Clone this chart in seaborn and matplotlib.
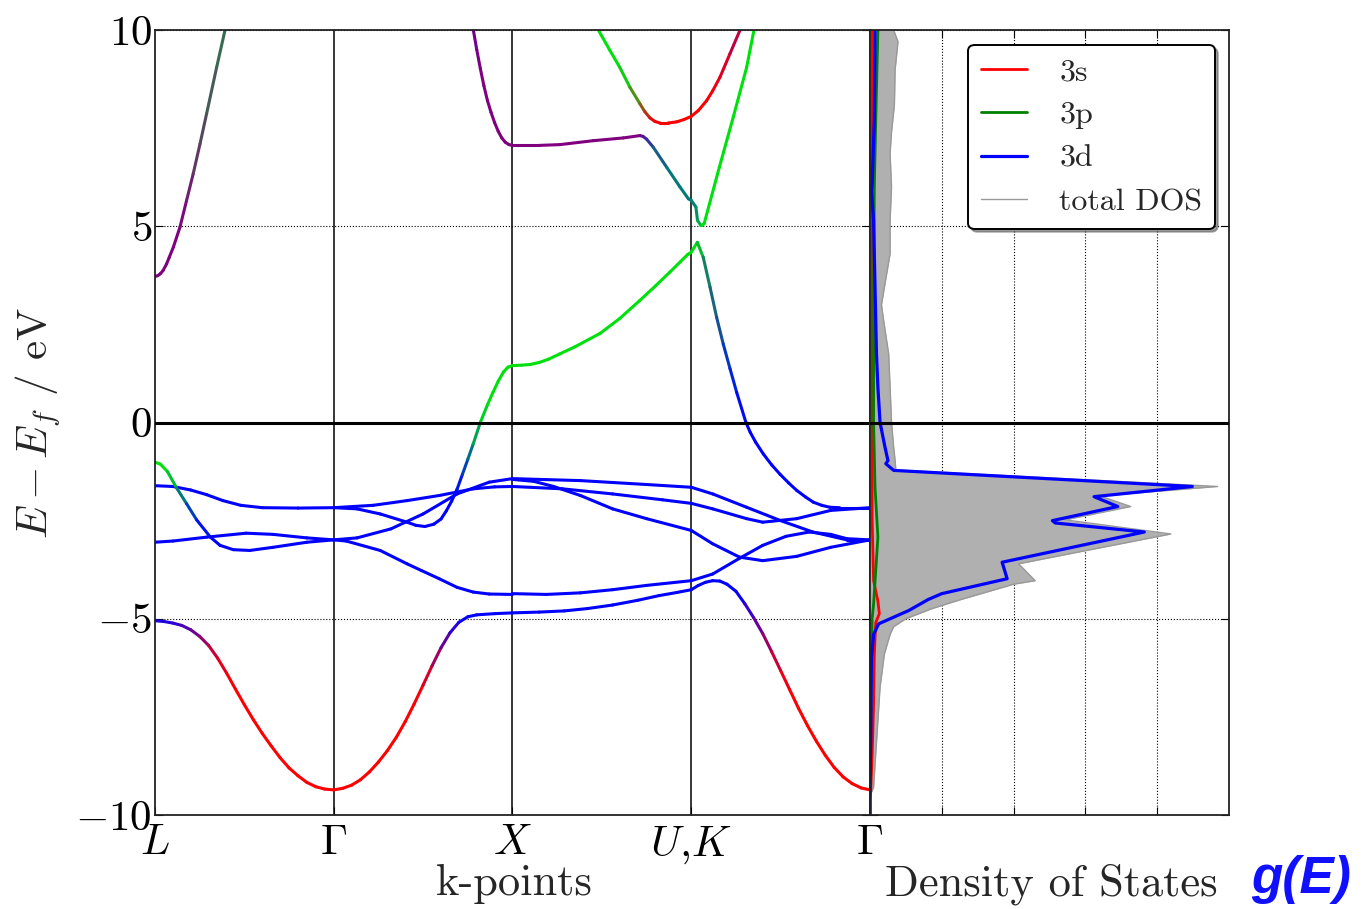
import numpy as np
import matplotlib
matplotlib.use("Agg")
import matplotlib.pyplot as plt
import seaborn as sns
from matplotlib.collections import LineCollection

# ---------------- band structure data ----------------
# k along the path L - Gamma - X - U,K - Gamma (one unit per segment), E - Ef in eV
kpt_pos = [0, 1, 2, 3, 4]
kpt_labels = [r'$L$', r'$\Gamma$', r'$X$', r'$U{,}K$', r'$\Gamma$']

# orbital weights (s, p, d) -> red, green, blue
R = (1, 0, 0)
G = (0, 1, 0)
B = (0, 0, 1)
P = (0.5, 0, 0.5)

# lowest (s-like) band, whole path
s_band_k = [0.00, 0.05, 0.10, 0.15, 0.20, 0.25, 0.30, 0.35, 0.40, 0.45, 0.50,
            0.55, 0.60, 0.65, 0.70, 0.75, 0.80, 0.85, 0.90, 0.95, 1.00,
            1.05, 1.10, 1.15, 1.20, 1.25, 1.30, 1.35, 1.40, 1.45, 1.50,
            1.55, 1.60, 1.65, 1.70, 1.75, 1.80, 1.90, 2.00,
            2.15, 2.29, 2.42, 2.56, 2.70, 2.82, 2.92, 3.00,
            3.04, 3.08, 3.12, 3.16, 3.20, 3.25, 3.30, 3.35, 3.40, 3.45, 3.50,
            3.55, 3.60, 3.65, 3.70, 3.75, 3.80, 3.85, 3.90, 3.95, 4.00]
s_band_e = [-5.05, -5.07, -5.11, -5.17, -5.28, -5.45, -5.68, -6.00, -6.38, -6.79, -7.19,
            -7.57, -7.92, -8.24, -8.54, -8.80, -9.00, -9.17, -9.28, -9.34, -9.36,
            -9.32, -9.24, -9.10, -8.90, -8.65, -8.36, -8.02, -7.62, -7.17, -6.69,
            -6.20, -5.74, -5.36, -5.09, -4.95, -4.90, -4.87, -4.85,
            -4.83, -4.80, -4.74, -4.65, -4.53, -4.41, -4.33, -4.26,
            -4.15, -4.07, -4.03, -4.04, -4.12, -4.30, -4.62, -4.98, -5.38, -5.84, -6.32,
            -6.80, -7.28, -7.72, -8.12, -8.48, -8.79, -9.03, -9.20, -9.31, -9.36]
s_band_w = ([(0.1, 0, 0.9), (0.12, 0, 0.88), (0.15, 0, 0.85), (0.25, 0, 0.75), (0.35, 0, 0.65),
             (0.5, 0, 0.5), (0.68, 0, 0.32), (0.85, 0, 0.15), (0.95, 0, 0.05)]
            + [R] * 12 + [R] * 9
            + [(0.92, 0, 0.08), (0.75, 0, 0.25), (0.5, 0, 0.5), (0.25, 0, 0.75), (0.08, 0, 0.92)]
            + [B] * 4 + [B] * 8 + [B] * 6
            + [(0.1, 0, 0.9), (0.3, 0, 0.7), (0.5, 0, 0.5), (0.7, 0, 0.3), (0.88, 0, 0.12), (0.97, 0, 0.03)]
            + [R] * 9)

# L - Gamma
d1_k = [0.00, 0.10, 0.20, 0.29, 0.38, 0.48, 0.60, 0.80, 1.00]
d1_e = [-1.61, -1.63, -1.72, -1.84, -1.99, -2.11, -2.17, -2.18, -2.17]
d2_k = [0.00, 0.10, 0.29, 0.51, 0.66, 0.85, 1.00]
d2_e = [-3.05, -3.02, -2.92, -2.82, -2.85, -2.94, -2.99]
sp1_k = [0.00, 0.03, 0.07, 0.12, 0.177, 0.233, 0.31, 0.364, 0.438, 0.53, 0.66, 0.85, 1.00]
sp1_e = [-1.01, -1.06, -1.25, -1.66, -2.07, -2.48, -2.92, -3.13, -3.24, -3.26, -3.18, -3.05, -2.99]
sp1_w = [G, G, G, (0, 0.7, 0.3), (0, 0.4, 0.6), (0, 0.15, 0.85), B, B, B, B, B, B, B]
up1_k = [0.00, 0.015, 0.03, 0.045, 0.065, 0.08, 0.103, 0.14, 0.177, 0.214, 0.252, 0.289, 0.345, 0.392]
up1_e = [3.72, 3.74, 3.79, 3.87, 4.04, 4.21, 4.47, 4.98, 5.66, 6.34, 7.10, 7.87, 9.05, 10.0]
up1_w = [P] * 8 + [(0.45, 0.1, 0.45), (0.4, 0.2, 0.4), (0.35, 0.3, 0.35),
                   (0.3, 0.35, 0.35), (0.25, 0.45, 0.3), (0.2, 0.5, 0.3)]

# Gamma - X
d3_k = [1.00, 1.22, 1.41, 1.59, 1.78, 1.90, 2.00]
d3_e = [-2.17, -2.11, -1.99, -1.86, -1.69, -1.64, -1.63]
d4_k = [1.00, 1.13, 1.32, 1.50, 1.69, 1.87, 2.00]
d4_e = [-2.99, -2.94, -2.71, -2.33, -1.82, -1.52, -1.43]
d5_k = [1.00, 1.07, 1.26, 1.41, 1.49, 1.59, 1.69, 1.78, 1.87, 2.00]
d5_e = [-2.99, -3.02, -3.26, -3.60, -3.77, -3.98, -4.20, -4.32, -4.37, -4.38]
sp2_k = [1.00, 1.13, 1.26, 1.41, 1.46, 1.51, 1.56, 1.60, 1.63, 1.66, 1.69,
         1.72, 1.75, 1.78, 1.82, 1.86, 1.89, 1.92, 1.95, 1.975, 2.00]
sp2_e = [-2.17, -2.20, -2.33, -2.54, -2.62, -2.65, -2.59, -2.46, -2.25, -2.00, -1.70,
         -1.32, -0.94, -0.55, 0.00, 0.45, 0.76, 1.05, 1.29, 1.41, 1.45]
sp2_w = [B] * 11 + [(0, 0.2, 0.8), (0, 0.4, 0.6), (0, 0.6, 0.4), (0, 0.85, 0.15)] + [G] * 6
up2_k = [1.781, 1.80, 1.82, 1.84, 1.86, 1.88, 1.90, 1.92, 1.94, 1.96, 1.98, 2.00]
up2_e = [10.0, 9.50, 9.02, 8.58, 8.20, 7.90, 7.64, 7.42, 7.25, 7.14, 7.08, 7.06]
up2_w = [(0.42, 0, 0.58), (0.45, 0, 0.55)] + [P] * 10

# X - U,K
d6_k = [2.00, 2.38, 2.75, 3.00]
d6_e = [-1.43, -1.48, -1.58, -1.65]
d7_k = [2.00, 2.12, 2.23, 2.38, 2.56, 2.75, 3.00]
d7_e = [-1.45, -1.50, -1.63, -1.86, -2.20, -2.45, -2.75]
d8_k = [2.00, 2.28, 2.56, 2.84, 3.00]
d8_e = [-1.63, -1.69, -1.82, -1.97, -2.06]
d9_k = [2.00, 2.19, 2.38, 2.56, 2.75, 3.00]
d9_e = [-4.36, -4.38, -4.34, -4.26, -4.15, -4.03]
up3_k = [2.00, 2.15, 2.266, 2.452, 2.62, 2.713, 2.73, 2.75, 2.788, 2.863, 2.937, 2.984, 3.00]
up3_e = [7.06, 7.06, 7.08, 7.18, 7.25, 7.31, 7.29, 7.22, 7.01, 6.50, 6.00, 5.70, 5.66]
up3_w = [P] * 6 + [(0.35, 0.08, 0.57), (0.25, 0.15, 0.6), (0.1, 0.35, 0.55), (0.05, 0.5, 0.45),
                   (0, 0.55, 0.45), (0, 0.55, 0.45), (0, 0.55, 0.45)]
up5_k = [2.48, 2.545, 2.60, 2.657, 2.713, 2.74, 2.769, 2.797, 2.825, 2.87, 2.919, 2.96, 3.00]
up5_e = [10.0, 9.48, 9.05, 8.54, 8.12, 7.92, 7.76, 7.67, 7.63, 7.63, 7.66, 7.72, 7.80]
up5_w = [G, G, G, (0.15, 0.8, 0.05), (0.45, 0.5, 0.05), (0.65, 0.3, 0.05), (0.85, 0.1, 0.05),
         (0.95, 0, 0.05), R, R, R, R, R]
up7_k = [2.00, 2.05, 2.10, 2.15, 2.20, 2.266, 2.35, 2.49, 2.60, 2.71, 2.80, 2.88, 2.94, 2.98, 3.00]
up7_e = [1.45, 1.46, 1.48, 1.53, 1.61, 1.75, 1.93, 2.27, 2.65, 3.10, 3.48, 3.83, 4.10, 4.28, 4.34]

# U,K - Gamma
d10_k = [3.00, 3.12, 3.31, 3.50, 3.68, 3.87, 4.00]
d10_e = [-1.65, -1.82, -2.16, -2.50, -2.79, -2.99, -2.99]
d11_k = [3.00, 3.12, 3.31, 3.40, 3.59, 3.78, 4.00]
d11_e = [-2.06, -2.20, -2.45, -2.54, -2.45, -2.24, -2.17]
d12_k = [3.00, 3.12, 3.27, 3.40, 3.59, 3.78, 4.00]
d12_e = [-2.75, -3.09, -3.43, -3.52, -3.41, -3.18, -2.99]
d13_k = [3.00, 3.12, 3.27, 3.40, 3.53, 3.66, 3.78, 3.87, 4.00]
d13_e = [-4.03, -3.86, -3.46, -3.13, -2.90, -2.79, -2.85, -2.96, -2.99]
sp3_k = [3.00, 3.034, 3.067, 3.105, 3.142, 3.179, 3.217, 3.254, 3.306, 3.33, 3.36, 3.403,
         3.45, 3.497, 3.545, 3.59, 3.64, 3.683, 3.73, 3.776, 3.83, 3.88, 4.00]
sp3_e = [4.34, 4.59, 4.21, 3.45, 2.68, 2.00, 1.37, 0.77, 0.00, -0.25, -0.50, -0.80,
         -1.08, -1.32, -1.54, -1.73, -1.90, -2.03, -2.11, -2.16, -2.17, -2.17, -2.17]
sp3_w = [G, G, (0.05, 0.65, 0.3), (0.1, 0.5, 0.4), (0.1, 0.4, 0.5), (0.05, 0.3, 0.65),
         (0, 0.2, 0.8), (0, 0.1, 0.9)] + [B] * 15
up4_k = [3.00, 3.026, 3.035, 3.054, 3.064, 3.073, 3.157, 3.235, 3.31, 3.351]
up4_e = [5.66, 5.49, 5.15, 5.02, 5.03, 5.08, 6.50, 7.78, 9.05, 10.0]
up4_w = [(0, 0.55, 0.45), (0, 0.6, 0.4), (0, 0.7, 0.3), (0, 0.85, 0.15), G, G, G, G, G, G]
up6_k = [3.00, 3.04, 3.086, 3.12, 3.161, 3.217, 3.273]
up6_e = [7.80, 7.95, 8.20, 8.45, 8.80, 9.40, 10.0]
up6_w = [R, R, R, (0.95, 0, 0.05), (0.9, 0, 0.1), (0.8, 0, 0.2), (0.7, 0, 0.3)]

# ---------------- density of states (arb. units) ----------------
dos_tot_e = [10.0, 9.7, 9.0, 8.1, 7.4, 6.85, 6.0, 5.15, 4.3, 3.55, 3.0, 2.6, 1.75, 0.9, 0.0,
             -0.64, -0.97, -1.21, -1.63, -1.87, -2.14, -2.48, -2.84, -3.6, -4.03, -4.12,
             -4.53, -4.75, -5.0, -5.2, -5.4, -5.9, -6.75, -7.6, -8.44, -9.3, -9.5, -10.0]
dos_tot = [0.33, 0.39, 0.35, 0.34, 0.30, 0.28, 0.30, 0.28, 0.28, 0.21, 0.16, 0.19, 0.26, 0.28, 0.30,
           0.33, 0.35, 0.36, 4.84, 3.20, 3.63, 2.72, 4.19, 2.07, 2.30, 2.00,
           1.23, 0.85, 0.50, 0.33, 0.28, 0.20, 0.14, 0.11, 0.08, 0.05, 0.0, 0.0]
dos_d_e = [10.0, 7.7, 6.1, 5.9, 5.15, 3.45, 1.75, 0.9, 0.0, -0.64, -0.97, -1.05, -1.22, -1.63,
           -1.89, -2.14, -2.5, -2.56, -2.79, -3.56, -3.98, -4.36, -4.51, -4.79, -5.13, -5.4,
           -6.0, -8.0, -9.5, -10.0]
dos_d = [0.07, 0.06, 0.03, 0.02, 0.05, 0.07, 0.09, 0.11, 0.14, 0.21, 0.25, 0.22, 0.33, 4.49,
         3.12, 3.45, 2.54, 2.58, 3.82, 1.84, 1.91, 1.00, 0.81, 0.54, 0.12, 0.05,
         0.02, 0.01, 0.0, 0.0]
dos_s_e = [10.0, 6.2, 5.9, 0.0, -2.5, -4.03, -4.55, -4.87, -5.1, -5.9, -7.16, -8.44, -9.4, -9.6, -10.0]
dos_s = [0.03, 0.02, 0.03, 0.03, 0.03, 0.05, 0.11, 0.13, 0.08, 0.06, 0.05, 0.03, 0.01, 0.0, 0.0]
dos_p_e = [10.0, 7.7, 6.0, 3.45, 0.0, -1.65, -2.92, -3.77, -4.62, -5.0, -5.9, -9.3, -10.0]
dos_p = [0.11, 0.08, 0.06, 0.05, 0.05, 0.07, 0.11, 0.08, 0.05, 0.03, 0.02, 0.0, 0.0]

# ---------------- style ----------------
sns.set_style("ticks")
plt.rcParams.update({
    'font.family': 'serif',
    'font.serif': ['cmr10', 'DejaVu Serif'],
    'mathtext.fontset': 'cm',
    'axes.unicode_minus': False,
    'axes.formatter.use_mathtext': True,
    'axes.edgecolor': '#222222',
    'axes.linewidth': 1.3,
    'xtick.direction': 'in',
    'ytick.direction': 'in',
    'xtick.color': 'k',
    'ytick.color': 'k',
})

mix = np.array([[1, 0, 0], [0, 0.88, 0.05], [0, 0, 1]])


def draw_band(ax, k, e, w=(B,)):
    pts = np.column_stack([k, e])
    segs = np.stack([pts[:-1], pts[1:]], axis=1)
    w = np.array(w, float)
    if len(w) == 1:
        w = np.repeat(w, len(k), axis=0)
    cols = np.clip(0.5 * (w[:-1] + w[1:]) @ mix, 0, 1)
    lc = LineCollection(segs, colors=cols, linewidths=2.2, capstyle='round', joinstyle='round', zorder=2)
    ax.add_collection(lc)


fig = plt.figure(figsize=(13.63, 9.09), dpi=100)
ax = fig.add_axes([0.1137, 0.1034, 0.5246, 0.8636])
axd = fig.add_axes([0.6383, 0.1034, 0.2634, 0.8636], sharey=ax)

# band structure
for xk in kpt_pos[1:-1]:
    ax.axvline(xk, color='k', lw=1.1, zorder=1.8)
ax.yaxis.grid(True, ls=':', color='k', lw=0.8)

draw_band(ax, s_band_k, s_band_e, s_band_w)
draw_band(ax, d1_k, d1_e)
draw_band(ax, d2_k, d2_e)
draw_band(ax, sp1_k, sp1_e, sp1_w)
draw_band(ax, up1_k, up1_e, up1_w)
draw_band(ax, d3_k, d3_e)
draw_band(ax, d4_k, d4_e)
draw_band(ax, d5_k, d5_e)
draw_band(ax, sp2_k, sp2_e, sp2_w)
draw_band(ax, up2_k, up2_e, up2_w)
draw_band(ax, d6_k, d6_e)
draw_band(ax, d7_k, d7_e)
draw_band(ax, d8_k, d8_e)
draw_band(ax, d9_k, d9_e)
draw_band(ax, up3_k, up3_e, up3_w)
draw_band(ax, up5_k, up5_e, up5_w)
draw_band(ax, up7_k, up7_e, [G])
draw_band(ax, d10_k, d10_e)
draw_band(ax, d11_k, d11_e)
draw_band(ax, d12_k, d12_e)
draw_band(ax, d13_k, d13_e)
draw_band(ax, sp3_k, sp3_e, sp3_w)
draw_band(ax, up4_k, up4_e, up4_w)
draw_band(ax, up6_k, up6_e, up6_w)

ax.axhline(0, color='k', lw=2.2, zorder=3)
ax.set_xlim(0, 4)
ax.set_ylim(-10, 10)
ax.set_xticks(kpt_pos)
ax.set_xticklabels(kpt_labels, fontsize=31)
ax.set_yticks([-10, -5, 0, 5, 10])
ax.set_yticklabels([r'$-10$', r'$-5$', r'$0$', r'$5$', r'$10$'], fontsize=31)
ax.tick_params(axis='x', pad=7, length=6)
ax.tick_params(axis='y', pad=2, length=6, right=True)
ax.set_xlabel('k-points', fontsize=32)
ax.xaxis.set_label_coords(0.503, -0.062)
ax.set_ylabel(r'$E-E_f$ / eV', fontsize=31)
ax.yaxis.set_label_coords(-0.128, 0.5)

# density of states
axd.fill_betweenx(dos_tot_e, 0, dos_tot, color='#b0b0b0', lw=0, zorder=1)
sns.lineplot(x=dos_tot, y=dos_tot_e, orient='y', ax=axd, color='#999999', lw=1.0, label='total DOS')
sns.lineplot(x=dos_s, y=dos_s_e, orient='y', ax=axd, color='red', lw=2.0, label='3s')
sns.lineplot(x=dos_p, y=dos_p_e, orient='y', ax=axd, color='green', lw=2.0, label='3p')
sns.lineplot(x=dos_d, y=dos_d_e, orient='y', ax=axd, color='blue', lw=2.3, label='3d')
axd.axhline(0, color='k', lw=2.2, zorder=3)
axd.set_xlim(0, 5)
axd.set_xticks([1, 2, 3, 4])
axd.grid(True, ls=':', color='k', lw=0.8)
axd.tick_params(labelleft=False, labelbottom=False, length=6, right=True, top=True)
axd.set_ylabel('')
axd.set_xlabel('Density of States', fontsize=32)
axd.xaxis.set_label_coords(0.504, -0.062)

handles, labels = axd.get_legend_handles_labels()
order = [labels.index(n) for n in ['3s', '3p', '3d', 'total DOS']]
leg = axd.legend([handles[i] for i in order], [labels[i] for i in order],
                 loc='upper right', bbox_to_anchor=(0.961, 0.981), borderaxespad=0.,
                 fontsize=23, fancybox=True, shadow=True, framealpha=1, edgecolor='k',
                 handlelength=1.45, handletextpad=1.0, labelspacing=0.47, borderpad=0.4)
leg.get_frame().set_linewidth(1.4)

fig.text(0.918, 0.0176, 'g(E)', color='#1010ff', fontsize=37, fontweight='bold',
         fontstyle='italic', family='Liberation Sans', va='baseline')

fig.savefig('out.png', dpi=100)
